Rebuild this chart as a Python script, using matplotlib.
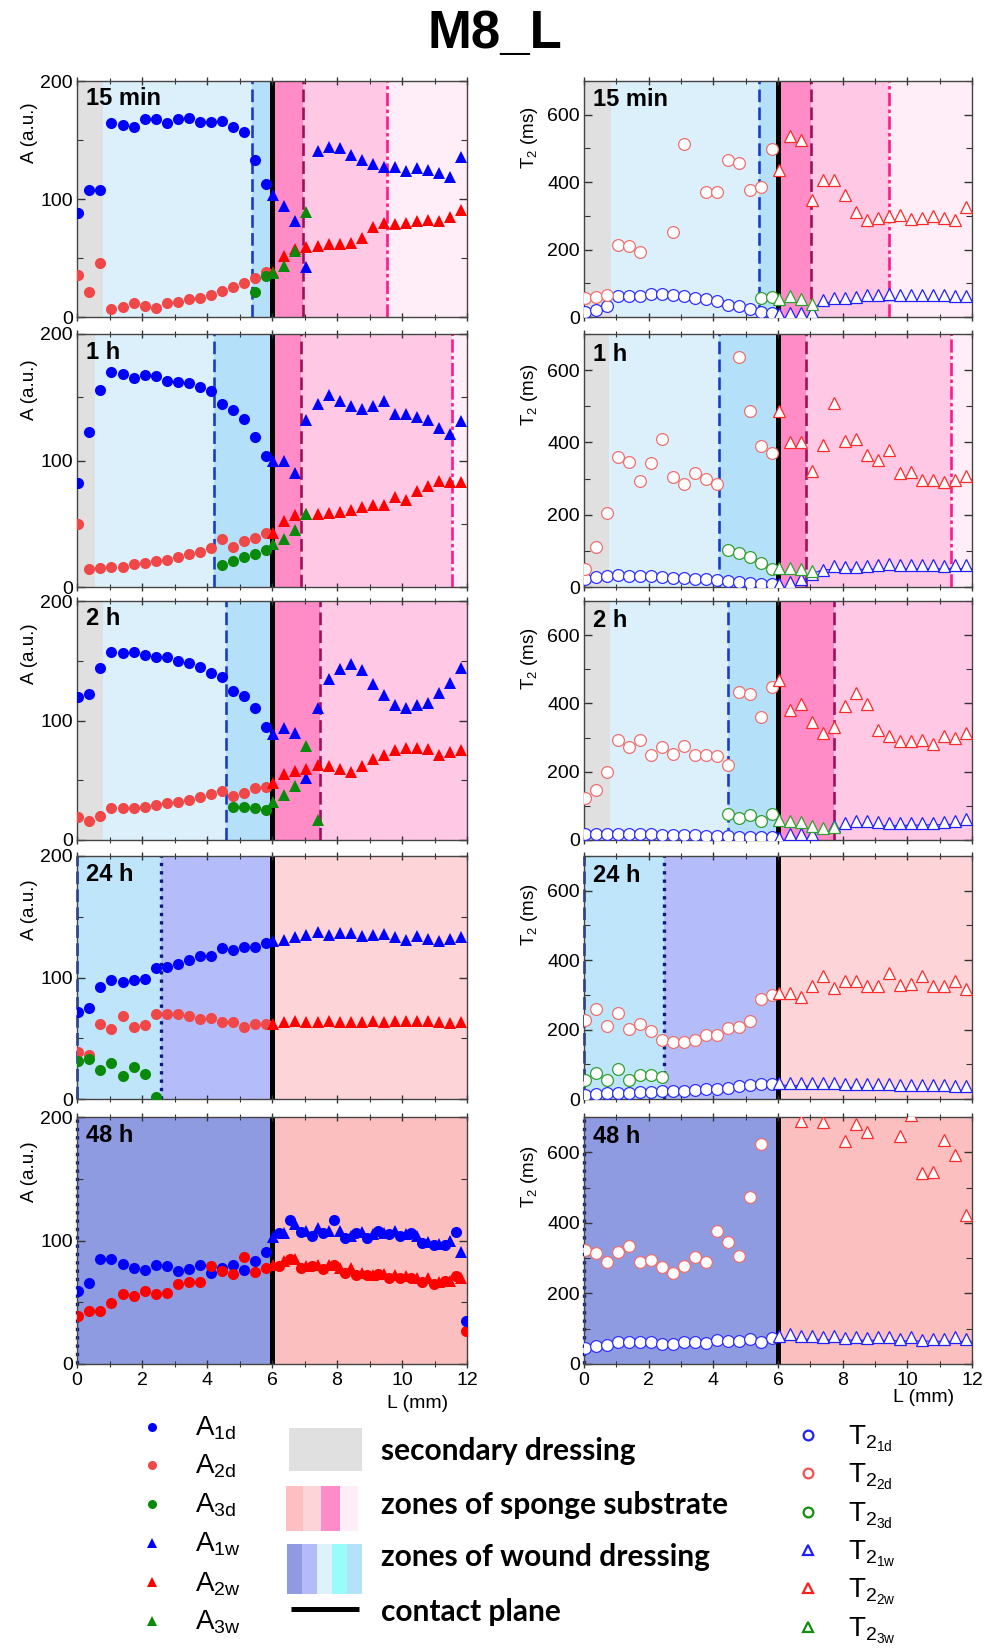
import numpy as np
import matplotlib
matplotlib.use('Agg')
import matplotlib.pyplot as plt
from matplotlib.patches import Rectangle
from matplotlib.ticker import MultipleLocator

plt.rcParams['font.family'] = ['Liberation Sans', 'DejaVu Sans']
plt.rcParams['mathtext.fontset'] = 'custom'
plt.rcParams['mathtext.rm'] = 'Liberation Sans'
plt.rcParams['mathtext.it'] = 'Liberation Sans:italic'

nan = np.nan

# measuring positions along the sample (mm): 18 in dressing (d), 18 in wound substrate (w)
L = [0.04, 0.38, 0.72, 1.06, 1.40, 1.74, 2.08, 2.42, 2.76, 3.10, 3.44, 3.78, 4.12, 4.46, 4.80, 5.14, 5.48, 5.82,
     6.04, 6.38, 6.72, 7.06, 7.40, 7.74, 8.08, 8.42, 8.76, 9.10, 9.44, 9.78, 10.12, 10.46, 10.80, 11.14, 11.48, 11.82]
ND = 18
# extra 48 h dressing-signal positions inside the substrate
L_48h_extra = [6.21, 6.55, 6.89, 7.23, 7.57, 7.91, 8.25, 8.59, 8.93, 9.27, 9.61, 9.95, 10.29, 10.63, 10.97,
               11.31, 11.65, 11.96]

times = ['15 min', '1 h', '2 h', '24 h', '48 h']

# ---- amplitudes A (a.u.) ----
A1_15m = [88, 108, 108, 164, 163, 161, 168, 168, 164, 168, 169, 165, 165, 166, 161, 157, 133, 113,
          103, 94, 81, 42, 141, 144, 143, 137, 133, 130, 127, 127, 124, 126, 125, 122, 119, 136]
A2_15m = [36, 21, 46, 7, 8.5, 12, 9, 7.5, 12, 13, 15, 16, 19, 22, 25.5, 29, 33, 38,
          38, 52, 58, 59, 60, 62, 62, 63, 67, 76, 80, 79, 80, 81, 82, 81, 85, 91]
A3_15m = [nan] * 16 + [21, 35] + [37, 43, 56, 89] + [nan] * 14

A1_1h = [82, 122.5, 156, 170, 168, 165, 167.5, 167, 163, 162, 161.5, 158, 155, 145, 140, 133, 118.5, 103.5,
         99.5, 99.5, 90, 132, 145, 152, 147, 143, 141, 143, 147, 137, 136.5, 134, 132, 126, 121, 131]
A2_1h = [50, 14, 15, 15.5, 16, 18.5, 19, 20.5, 21.5, 23.5, 26, 28, 30.5, 38, 31.5, 36, 38.5, 42.5,
         42.5, 52.5, 57, 58, 57.5, 58.5, 59.5, 61, 63.5, 65, 65, 71, 69, 75.5, 79.5, 84, 83, 83]
A3_1h = [nan] * 13 + [17.5, 20.5, 24, 26, 29] + [34, 38, 45, 58] + [nan] * 14

A1_2h = [120, 122.5, 144, 157, 156.5, 157, 155, 153, 153, 149.5, 148.5, 145, 140, 136.5, 125, 120.5, 110.5, 94.5,
         89, 94, 89.5, 51.5, 110.5, 135, 143.5, 147.5, 142.5, 130.5, 121, 113, 110.5, 113, 115, 123, 131.5, 144]
A2_2h = [19.5, 16, 20, 26.5, 27, 27, 28, 29, 31, 32, 33.5, 36, 38.5, 41, 37, 39, 43.5, 44.5,
         47.5, 55, 57.5, 59, 62.5, 62, 59, 56.5, 62, 67.5, 71.5, 75, 77, 77, 76, 71, 73.5, 75]
A3_2h = [nan] * 14 + [28, 27.5, 26.5, 25] + [32, 38, 45, 78.5, 17] + [nan] * 13

A1_24h = [72, 75, 92, 98, 96, 98, 99, 108, 109, 111, 114, 118, 118, 124, 123, 125, 125, 128,
          130, 131, 133, 135, 137.5, 135, 136.5, 136.5, 134, 135, 136, 133, 131, 134.5, 132, 130, 132, 133]
A2_24h = [39, 36, 62, 57.5, 68.5, 59.5, 61, 70, 70, 70, 68.5, 66, 67, 63, 63, 59, 62, 62,
          61.5, 63.5, 64, 63, 63, 64.5, 63.5, 63, 63.5, 64, 63.5, 64, 64, 64.5, 64, 63, 62.5, 63]
A3_24h = [31, 33, 24, 29.5, 19, 26, 20.5, 2] + [nan] * 28

A1_48h = [59, 65.5, 85, 85, 81, 78, 76, 80.5, 79, 75, 77, 80.5, 74, 78, 80, 76, 83.5, 91,
          103, 106, 113, 108, 110, 108, 108, 104, 107, 105, 106, 108, 105, 104, 99, 97, 100, 91]
A2_48h = [39, 43, 43, 49, 56.5, 55, 59, 57, 57.5, 65, 66.5, 66, 79.5, 75, 73, 87, 74.5, 78,
          80, 83, 85, 79, 80, 80, 78, 78, 74, 72, 73, 72, 71, 70, 70, 66, 67, 70]
A3_48h = [nan] * 36
A1_48h_extra = [106, 117, 107, 104, 106, 117, 102, 106, 102, 108, 105, 104, 106, 98, 96, 96, 107, 35]
A2_48h_extra = [79, 85, 78, 79, 77, 80, 74, 72, 72, 73, 70, 70, 70, 66, 65, 67, 71, 26.5]

# ---- relaxation times T2 (ms) ----
T1_15m = [16, 20, 32, 62, 62, 62, 67, 67, 64, 62, 57, 52, 47, 37, 32, 25, 16, 11,
          10, 11, 11, 16, 49, 55, 55, 59, 65, 65, 67, 65, 65, 64, 64, 64, 62, 62]
T2_15m = [57, 59, 65, 214, 212, 193, nan, nan, 253, 514, nan, 371, 371, 466, 458, 376, 386, 497,
          435, 536, 526, 347, 406, 406, 363, 310, 288, 293, 300, 304, 291, 295, 300, 293, 288, 327]
T3_15m = [nan] * 16 + [57, 60] + [54, 62, 54, 39] + [nan] * 14

T1_1h = [23, 28, 30.5, 32, 30.5, 30.5, 29.5, 28, 26, 25, 23, 21, 18.5, 16.5, 14, 11, 9, 7.5,
         8, 14, 21, 37, 48, 57, 55, 56, 57, 62, 65, 62, 62, 60, 60, 58, 60, 60]
T2_1h = [51, 111, 206, 361, 347, 294, 344, 410, 305, 284, 315, 298, 284, nan, 637, 488, 391, 370,
         488, 401, 401, 322, 392, 509, 405, 410, 364, 352, 380, 315, 319, 296, 296, 290, 296, 307]
T3_1h = [nan] * 13 + [102, 95, 83, 67, 51] + [52, 52, 50, 44] + [nan] * 14

T1_2h = [18, 18, 18, 18, 18, 17, 17, 16, 16, 15, 14, 13, 12, 11, 10, 9, 9, 8,
         5, 18, 18, 18, nan, 40, 51, 57, 57, 54, 51, 49, 49, 49, 51, 54, 57, 62]
T2_2h = [122, 145, 198, 294, 271, 292, 250, 271, 253, 274, 250, 250, 245, 219, 433, 429, 361, 448,
         470, 382, 399, 345, 312, 330, 392, 431, 399, 321, 306, 289, 289, 292, 282, 304, 299, 314]
T3_2h = [nan] * 13 + [75, 64, 73.5, 56, 75] + [58, 56, 54, 40, 36, 39] + [nan] * 12

T1_24h = [11, 13, 16, 18, 18, 19, 21, 23.5, 22.5, 23.5, 25.5, 28, 30, 33, 37, 40, 42, 44,
          46, 47, 47, 47, 47, 46, 44, 44, 44, 42, 42, 41, 40, 40, 40, 40, 38, 38]
T2_24h = [228, 259, 209, 249, 202, 216, 195, 170, 165, 165, 170, 183, 183, 204, 207, 225, 289, 301,
          306, 306, 294, 325, 353, 319, 341, 341, 325, 325, 362, 329, 330, 353, 325, 325, 341, 317]
T3_24h = [56, 75, 56, 85, 54, 70, 70, 63] + [nan] * 28

T1_48h = [44, 51, 54, 61.5, 63, 61.5, 63, 56, 57, 61.5, 61.5, 58.5, 68, 65, 65, 70, 63, 75,
          80, 84, 78, 79, 76, 79, 75, 76, 73, 77, 77, 71, 77, 68, 71, 71, 76, 71]
T2_48h = [324, 314, 288, 316, 335, 288, 295, 276, 257, 279, 302, 288, 378, 345, 307, 473, 624, nan,
          nan, nan, 690, nan, 686, nan, 633, 680, 658, nan, nan, 647, 705, 541, 543, 636, 591, 423]
T3_48h = [nan] * 36

# thin T2_1w trend line in the wound substrate
fitx = [[7.0, 7.4, 8.5, 12.0], [6.9, 7.4, 12.0], [7.75, 8.0, 12.0], [6.0, 12.0], [6.0, 12.0]]
fity = [[25, 42, 48, 50], [32, 48, 51], [27, 39, 47], [40, 23], [71, 63]]

# ---- zones (mm) ----
edges_A = [[0, 0.80, 5.37, 6.0, 6.95, 9.53, 12],
           [0, 0.55, 4.20, 6.0, 6.90, 11.53, 12],
           [0, 0.79, 4.58, 6.0, 7.47, 12],
           [0, 2.58, 6.0, 12],
           [0, 6.0, 12]]
edges_T = [[0, 0.82, 5.40, 6.0, 7.03, 9.43, 12],
           [0, 0.77, 4.17, 6.0, 6.88, 11.34, 12],
           [0, 0.80, 4.45, 6.0, 7.74, 12],
           [0, 2.48, 6.0, 12],
           [0, 6.0, 12]]
GRAY, LBLUE, MBLUE, HPINK, PINK, VLPINK = '#e0e0e0', '#dcf0fc', '#b4e0fa', '#ff8cc6', '#ffc8e4', '#ffeef7'
zone_colors = [[GRAY, LBLUE, MBLUE, HPINK, PINK, VLPINK],
               [GRAY, LBLUE, MBLUE, HPINK, PINK, VLPINK],
               [GRAY, LBLUE, MBLUE, HPINK, PINK],
               ['#bee5fa', '#b4bdf9', '#fdd5d8'],
               ['#8f9be0', '#fcbfc0']]
# boundary markers: (kind, index into edges)
zone_lines = [[('blue', 2), ('plum', 4), ('pinkdd', 5)],
              [('blue', 2), ('plum', 4), ('pinkdd', 5)],
              [('blue', 2), ('plum', 4)],
              [('blue', 0), ('navy', 1)],
              [('navy', 0)]]
CONTACT = 6.0

A1 = [A1_15m, A1_1h, A1_2h, A1_24h, A1_48h]
A2 = [A2_15m, A2_1h, A2_2h, A2_24h, A2_48h]
A3 = [A3_15m, A3_1h, A3_2h, A3_24h, A3_48h]
T1 = [T1_15m, T1_1h, T1_2h, T1_24h, T1_48h]
T2 = [T2_15m, T2_1h, T2_2h, T2_24h, T2_48h]
T3 = [T3_15m, T3_1h, T3_2h, T3_24h, T3_48h]

LINE_STYLE = {
    'blue': dict(color='#1a3cc8', lw=1.9, ls=(0, (4.8, 2.0))),
    'plum': dict(color='#a0105a', lw=1.9, ls=(0, (4.8, 2.0))),
    'pinkdd': dict(color='#ff1a8c', lw=1.9, ls=(0, (5, 1.3, 1.3, 1.3))),
    'navy': dict(color='#0a1a80', lw=2.4, ls=(0, (1, 1.5))),
}
BLUE, RED_D, RED_W, GREEN = '#0000ff', '#f04848', '#ff0000', '#0a8a0a'

W, H = 990, 1650
fig = plt.figure(figsize=(9.9, 16.5), dpi=100)
rows_px = [(81, 317), (334, 587), (601, 840), (856, 1099), (1117, 1364)]
cols_px = [(77, 467), (584, 972)]


def make_ax(col, row):
    x0, x1 = cols_px[col]
    y0, y1 = rows_px[row]
    return fig.add_axes([x0 / W, 1 - y1 / H, (x1 - x0) / W, (y1 - y0) / H])


def decorate(ax, edges, colors, lines):
    for a, b, c in zip(edges[:-1], edges[1:], colors):
        ax.axvspan(a, b, color=c, lw=0, zorder=0)
    for kind, i in lines:
        ax.axvline(edges[i], zorder=1, clip_on=False, **LINE_STYLE[kind])
    ax.axvline(CONTACT, color='black', lw=3.6, zorder=1)


def style_axes(ax, ymax, ymaj, ymin, bottom):
    ax.set_xlim(0, 12)
    ax.set_ylim(0, ymax)
    ax.xaxis.set_major_locator(MultipleLocator(2))
    ax.xaxis.set_minor_locator(MultipleLocator(1))
    ax.yaxis.set_major_locator(MultipleLocator(ymaj))
    ax.yaxis.set_minor_locator(MultipleLocator(ymin))
    ax.tick_params(which='both', top=True, right=True, labelsize=14, pad=3, color='#333333')
    ax.tick_params(axis='y', which='both', direction='in')
    ax.tick_params(axis='x', which='both', direction='inout')
    ax.tick_params(which='major', length=6, width=1)
    ax.tick_params(which='minor', length=4, width=0.8)
    if not bottom:
        ax.tick_params(axis='x', labelbottom=False)
    for s in ax.spines.values():
        s.set_color('#444444')
        s.set_linewidth(1.0)


xd, xw = L[:ND], L[ND:]
for r in range(5):
    last = r == 4
    # amplitudes
    ax = make_ax(0, r)
    decorate(ax, edges_A[r], zone_colors[r], zone_lines[r])
    if last:
        ax.plot(L_48h_extra, A2_48h_extra, 'o', color=RED_W, ms=8, mew=0, zorder=3)
        ax.plot(L_48h_extra, A1_48h_extra, 'o', color=BLUE, ms=8, mew=0, zorder=3)
    ax.plot(xd, A1[r][:ND], 'o', color=BLUE, ms=8, mew=0, zorder=3)
    ax.plot(xd, A2[r][:ND], 'o', color=RED_D if not last else RED_W, ms=8, mew=0, zorder=3)
    ax.plot(xd, A3[r][:ND], 'o', color=GREEN, ms=8, mew=0, zorder=3)
    ax.plot(xw, A1[r][ND:], '^', color=BLUE, ms=8.5, mew=0, zorder=3)
    ax.plot(xw, A2[r][ND:], '^', color=RED_W, ms=8.5, mew=0, zorder=3)
    ax.plot(xw, A3[r][ND:], '^', color=GREEN, ms=8.5, mew=0, zorder=3)
    style_axes(ax, 200, 100, 50, last)
    ax.set_ylabel('A (a.u.)', fontsize=13.5)
    ax.yaxis.set_label_coords(-0.10, 0.78)
    ax.text(0.022, 0.925, times[r], transform=ax.transAxes, fontsize=17, fontweight='bold',
            va='center', ha='left', zorder=5)
    if last:
        ax.text(0.874, -0.158, 'L (mm)', transform=ax.transAxes, fontsize=14, ha='center', va='center')

    # relaxation times
    ax = make_ax(1, r)
    decorate(ax, edges_T[r], zone_colors[r], zone_lines[r])
    ax.plot(fitx[r], fity[r], '-', color='#3030ff', lw=0.9, zorder=2)
    ax.plot(xd, T1[r][:ND], 'o', mfc='white', mec='#3030ff', ms=8.5, mew=0.9, zorder=3)
    ax.plot(xd, T2[r][:ND], 'o', mfc='white', mec='#f07070', ms=8.5, mew=0.9, zorder=3)
    ax.plot(xd, T3[r][:ND], 'o', mfc='white', mec='#30a030', ms=8.5, mew=0.9, zorder=3)
    ax.plot(xw, T1[r][ND:], '^', mfc='white', mec='#2020ff', ms=9, mew=0.9, zorder=3)
    ax.plot(xw, T2[r][ND:], '^', mfc='white', mec='#ff2a2a', ms=9, mew=0.9, zorder=3)
    ax.plot(xw, T3[r][ND:], '^', mfc='white', mec='#30a030', ms=9, mew=0.9, zorder=3)
    style_axes(ax, 700, 200, 100, last)
    ax.set_ylabel(r'T$_2$ (ms)', fontsize=13.5)
    ax.yaxis.set_label_coords(-0.113, 0.76)
    ax.text(0.024, 0.92, times[r], transform=ax.transAxes, fontsize=17, fontweight='bold',
            va='center', ha='left', zorder=5)
    if last:
        ax.text(0.874, -0.134, 'L (mm)', transform=ax.transAxes, fontsize=14, ha='center', va='center')

fig.text(0.5, 1 - 34 / H, 'M8_L', fontsize=38, fontweight='bold', ha='center', va='center')

# ---- legend block ----
lg = fig.add_axes([0, 0, 1, 245 / H])
lg.set_xlim(0, W)
lg.set_ylim(H, H - 245)
lg.axis('off')

a_labels = [r'$\mathrm{A}_{\mathrm{1d}}$', r'$\mathrm{A}_{\mathrm{2d}}$', r'$\mathrm{A}_{\mathrm{3d}}$',
            r'$\mathrm{A}_{\mathrm{1w}}$', r'$\mathrm{A}_{\mathrm{2w}}$', r'$\mathrm{A}_{\mathrm{3w}}$']
t_labels = [r'$\mathrm{T}_{\mathrm{2}_{\mathrm{1d}}}$', r'$\mathrm{T}_{\mathrm{2}_{\mathrm{2d}}}$',
            r'$\mathrm{T}_{\mathrm{2}_{\mathrm{3d}}}$', r'$\mathrm{T}_{\mathrm{2}_{\mathrm{1w}}}$',
            r'$\mathrm{T}_{\mathrm{2}_{\mathrm{2w}}}$', r'$\mathrm{T}_{\mathrm{2}_{\mathrm{3w}}}$']
a_marks = [('o', BLUE), ('o', RED_D), ('o', GREEN), ('^', BLUE), ('^', RED_W), ('^', GREEN)]
t_marks = [('o', '#2020ff'), ('o', '#f05050'), ('o', '#109010'),
           ('^', '#2020ff'), ('^', '#ff2020'), ('^', '#109010')]
a_y = [1427, 1465, 1504, 1543, 1582, 1621]
t_y = [1435, 1473, 1512, 1550, 1588, 1627]
for (m, c), lab, y in zip(a_marks, a_labels, a_y):
    lg.plot(152, y, m, color=c, ms=6.5, mew=0, clip_on=False)
    lg.text(195, y + 9, lab, fontsize=20, va='baseline', ha='left')
for (m, c), lab, y in zip(t_marks, t_labels, t_y):
    lg.plot(808, y, m, mfc='white', mec=c, ms=7, mew=1.6, clip_on=False)
    lg.text(848, y + 9, lab, fontsize=20, va='baseline', ha='left')

lg.add_patch(Rectangle((289, 1428), 73, 43, color=GRAY, lw=0))
sponge = ['#fdbfc2', '#fdd5d9', '#ff8cc8', '#ffeef7']
sp_x = [286, 303, 321, 340, 358]
for c, a, b in zip(sponge, sp_x[:-1], sp_x[1:]):
    lg.add_patch(Rectangle((a, 1486), b - a, 45, color=c, lw=0))
wound = ['#8f9ae0', '#b3bcf9', '#def2fc', '#99fbfa', '#b3e2fa']
wd_x = [287, 302, 317, 332, 347, 362]
for c, a, b in zip(wound, wd_x[:-1], wd_x[1:]):
    lg.add_patch(Rectangle((a, 1544), b - a, 50, color=c, lw=0))
lg.plot([291, 359], [1609, 1609], color='black', lw=3.6, solid_capstyle='butt')

for txt, y in zip(['secondary dressing', 'zones of sponge substrate', 'zones of wound dressing', 'contact plane'],
                  [1451, 1505, 1557, 1612]):
    lg.text(381, y, txt, fontsize=21.5, fontweight='bold', family=['Lato', 'DejaVu Sans'],
            va='center', ha='left')

fig.savefig('out.png', dpi=100)
